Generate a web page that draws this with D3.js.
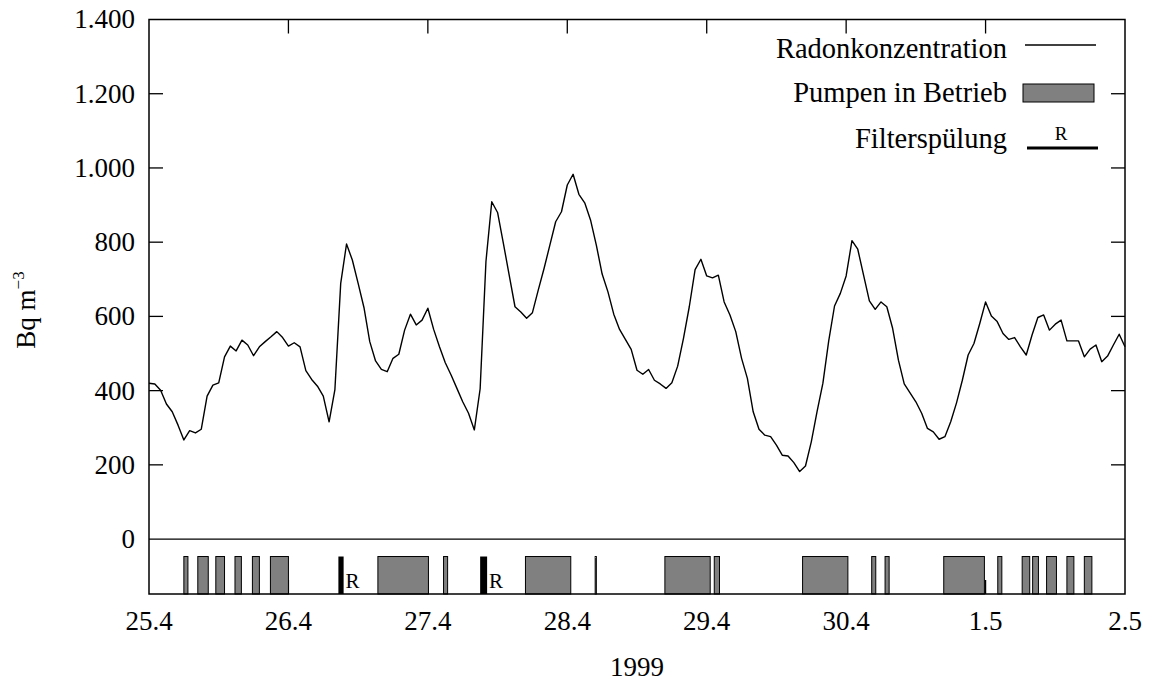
<!DOCTYPE html>
<html>
<head>
<meta charset="utf-8">
<script src="https://cdn.jsdelivr.net/npm/d3@7"></script>
<style>
  body { margin: 0; background: #fff; }
  svg { display: block; }
  text { font-family: "Liberation Serif", "Times New Roman", serif; fill: #000; }
</style>
</head>
<body>
<svg id="chart" width="1153" height="684"></svg>
<script>
// Radon concentration, one value per hour starting 25.4 00:00 (Bq m^-3)
const radon = [
  420, 418, 401, 364, 343, 307, 267, 292, 286, 296, 385, 415, 421, 491, 520, 507, 536, 523, 494, 518,
  532, 545, 559, 543, 520, 529, 518, 454, 430, 412, 385, 316, 403, 689, 795, 752, 689, 624, 532, 480,
  457, 451, 487, 498, 563, 606, 577, 590, 622, 565, 518, 475, 442, 406, 370, 339, 294, 405, 748, 909,
  880, 797, 711, 626, 612, 595, 610, 671, 729, 792, 855, 882, 954, 983, 929, 906, 860, 792, 714, 666,
  606, 565, 538, 511, 455, 444, 457, 428, 418, 406, 421, 466, 541, 626, 726, 754, 709, 704, 711, 639,
  604, 559, 487, 433, 343, 296, 280, 276, 253, 226, 224, 206, 182, 197, 262, 344, 420, 534, 628, 662,
  709, 804, 781, 711, 642, 619, 639, 626, 568, 482, 418, 394, 370, 339, 298, 289, 269, 276, 316, 367,
  428, 496, 527, 581, 639, 601, 586, 554, 538, 543, 518, 496, 550, 597, 604, 563, 579, 590, 534, 534,
  534, 491, 512, 523, 478, 493, 523, 552, 518
];

// Pumps running: [start hour, end hour]
const pumpIntervals = [
  [6.0, 6.7], [8.4, 10.2], [11.5, 13.0], [14.8, 15.9], [17.8, 19.0], [20.9, 24.0],
  [39.4, 48.1], [50.7, 51.4], [64.8, 72.6], [76.8, 77.0], [88.8, 96.6], [97.3, 98.2],
  [112.5, 120.3], [124.4, 125.1], [126.7, 127.4], [136.8, 143.8], [146.1, 146.8],
  [150.3, 151.6], [152.1, 153.1], [154.5, 156.2], [158.0, 159.2], [161.0, 162.3]
];

// Filter flushing: [start hour, end hour]
const filterFlush = [[32.6, 33.5], [57.0, 58.2]];

// Axis ticks
const dayHours = [0, 24, 48, 72, 96, 120, 144, 168];
const dayLabels = ["25.4", "26.4", "27.4", "28.4", "29.4", "30.4", "1.5", "2.5"];
const yTicks = [0, 200, 400, 600, 800, 1000, 1200, 1400];

const legendItems = ["Radonkonzentration", "Pumpen in Betrieb", "Filterspülung"];

const plotLeft = 149, plotRight = 1125, plotTop = 19.5, plotBottom = 594;
const fontSize = 27;
const tickLen = 14;

const svg = d3.select("#chart");

const x = d3.scaleLinear().domain([0, 168]).range([plotLeft, plotRight]);
const y = d3.scaleLinear().domain([-148, 1400]).range([plotBottom, plotTop]);

const yFormat = d => d >= 1000 ? d3.format(",")(d).replace(",", ".") : String(d);

// Zero line
svg.append("line")
  .attr("x1", plotLeft).attr("x2", plotRight)
  .attr("y1", y(0)).attr("y2", y(0))
  .attr("stroke", "#000").attr("stroke-width", 1.2);

// Ticks on all four sides (drawn first, pump bars may cover them)
const tickG = svg.append("g").attr("stroke", "#000").attr("stroke-width", 1.3);
dayHours.slice(1, -1).forEach(h => {
  tickG.append("line").attr("x1", x(h)).attr("x2", x(h)).attr("y1", plotTop).attr("y2", plotTop + tickLen);
  tickG.append("line").attr("x1", x(h)).attr("x2", x(h)).attr("y1", plotBottom).attr("y2", plotBottom - tickLen);
});
yTicks.slice(1, -1).forEach(v => {
  tickG.append("line").attr("x1", plotLeft).attr("x2", plotLeft + tickLen).attr("y1", y(v)).attr("y2", y(v));
  tickG.append("line").attr("x1", plotRight).attr("x2", plotRight - tickLen).attr("y1", y(v)).attr("y2", y(v));
});

// Pump bars
const barTop = y(-47);
svg.append("g").selectAll("rect")
  .data(pumpIntervals)
  .enter().append("rect")
  .attr("x", d => x(d[0]))
  .attr("y", barTop)
  .attr("width", d => Math.max(x(d[1]) - x(d[0]), 0.5))
  .attr("height", plotBottom - barTop)
  .attr("fill", "#808080")
  .attr("stroke", "#000")
  .attr("stroke-width", 1);

// Filter flush marks with "R"
const flushG = svg.append("g");
flushG.selectAll("rect")
  .data(filterFlush)
  .enter().append("rect")
  .attr("x", d => x(d[0]))
  .attr("y", barTop)
  .attr("width", d => x(d[1]) - x(d[0]))
  .attr("height", plotBottom - barTop)
  .attr("fill", "#000");
flushG.selectAll("text")
  .data(filterFlush)
  .enter().append("text")
  .attr("x", d => x(d[1]) + 2)
  .attr("y", plotBottom - 6)
  .attr("font-size", 21)
  .text("R");

// Radon line
const line = d3.line()
  .x((d, i) => x(i))
  .y(d => y(d));

svg.append("path")
  .datum(radon)
  .attr("fill", "none")
  .attr("stroke", "#000")
  .attr("stroke-width", 1.4)
  .attr("stroke-linejoin", "round")
  .attr("d", line);

// Frame
svg.append("rect")
  .attr("x", plotLeft).attr("y", plotTop)
  .attr("width", plotRight - plotLeft).attr("height", plotBottom - plotTop)
  .attr("fill", "none")
  .attr("stroke", "#000")
  .attr("stroke-width", 1.5);

// Y tick labels
svg.append("g").selectAll("text")
  .data(yTicks)
  .enter().append("text")
  .attr("x", plotLeft - 14)
  .attr("y", d => y(d))
  .attr("dy", "0.33em")
  .attr("text-anchor", "end")
  .attr("font-size", fontSize)
  .text(yFormat);

// X tick labels
svg.append("g").selectAll("text")
  .data(dayHours)
  .enter().append("text")
  .attr("x", d => x(d))
  .attr("y", 630)
  .attr("text-anchor", "middle")
  .attr("font-size", fontSize)
  .text((d, i) => dayLabels[i]);

// Axis titles
svg.append("text")
  .attr("x", (plotLeft + plotRight) / 2)
  .attr("y", 676)
  .attr("text-anchor", "middle")
  .attr("font-size", fontSize)
  .text("1999");

const yTitle = svg.append("text")
  .attr("transform", "translate(35,310) rotate(-90)")
  .attr("text-anchor", "middle")
  .attr("font-size", fontSize);
yTitle.append("tspan").text("Bq m");
yTitle.append("tspan").attr("font-size", 17).attr("dy", -11).text("\u22123");

// Legend
const legend = svg.append("g");
const legendTextX = 1007;
const legendBaselines = [58, 102, 148];

legend.selectAll("text.label")
  .data(legendItems)
  .enter().append("text")
  .attr("class", "label")
  .attr("x", legendTextX)
  .attr("y", (d, i) => legendBaselines[i])
  .attr("text-anchor", "end")
  .attr("font-size", 28.5)
  .text(d => d);

legend.append("line")
  .attr("x1", 1025).attr("x2", 1096)
  .attr("y1", 45).attr("y2", 45)
  .attr("stroke", "#000").attr("stroke-width", 1.4);

legend.append("rect")
  .attr("x", 1023).attr("y", 84)
  .attr("width", 71).attr("height", 18)
  .attr("fill", "#808080")
  .attr("stroke", "#000").attr("stroke-width", 1);

legend.append("line")
  .attr("x1", 1027).attr("x2", 1098)
  .attr("y1", 148).attr("y2", 148)
  .attr("stroke", "#000").attr("stroke-width", 3);

legend.append("text")
  .attr("x", 1061)
  .attr("y", 140)
  .attr("text-anchor", "middle")
  .attr("font-size", 19)
  .text("R");
</script>
</body>
</html>
